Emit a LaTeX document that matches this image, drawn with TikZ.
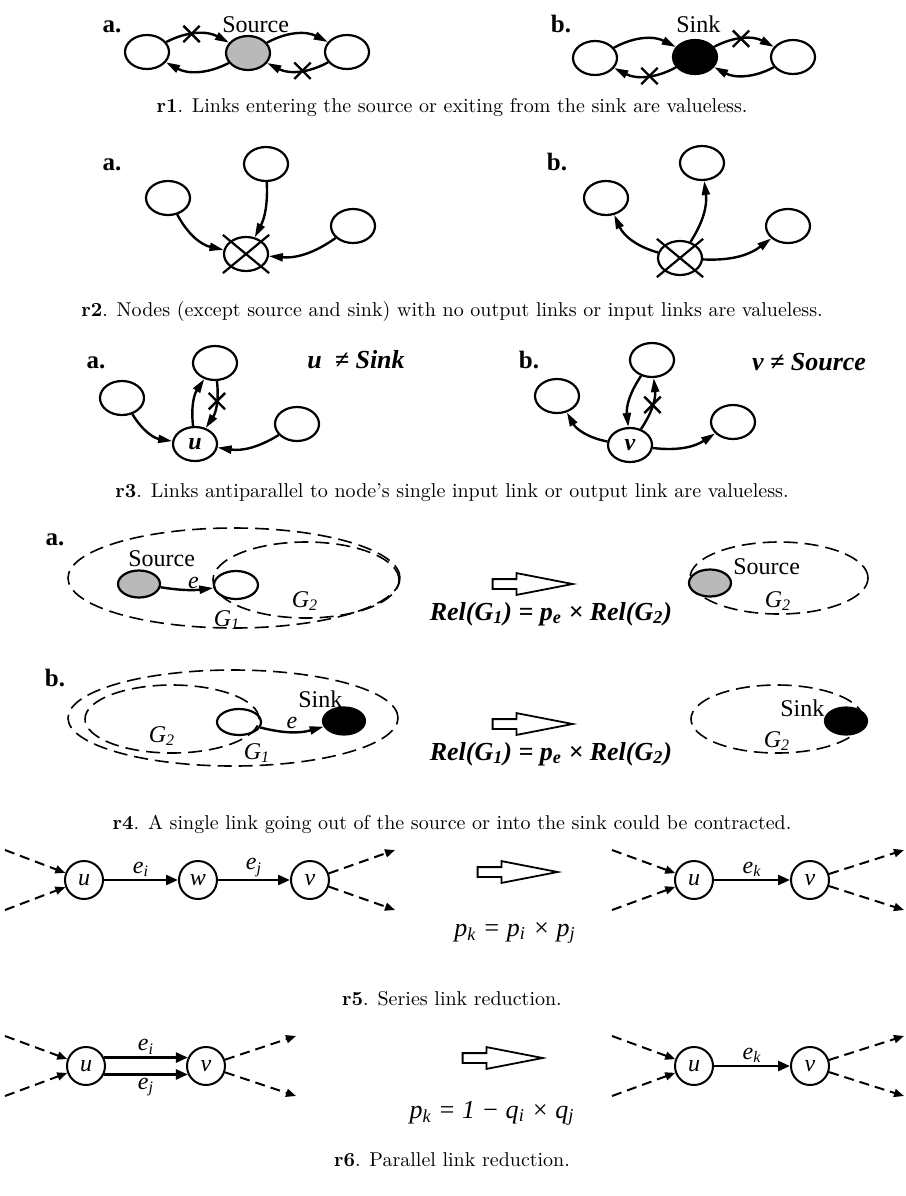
\documentclass[tikz,border=0pt]{standalone}
\usepackage{fontspec}
\usetikzlibrary{arrows.meta,shapes.geometric,shapes.misc,shapes.arrows}
\newfontfamily\tms{Liberation Serif}
\tikzset{
  vtx/.style={
    ellipse,
    draw,
    line width=1.1pt,
    minimum width=22pt,
    minimum height=17pt,
    inner sep=0pt,
    font=\tms\bfseries\itshape\fontsize{12}{12}\selectfont
  },
  srcvtx/.style={vtx, fill=gray!55},
  snkvtx/.style={vtx, fill=black},
  deadx/.style={
    cross out,
    draw,
    line width=1.1pt,
    minimum width=22pt,
    minimum height=18pt,
    inner sep=0pt
  },
  link/.style={
    line width=1.2pt,
    -{Triangle[length=7pt,width=4pt]}
  },
  cutmark/.style={
    cross out,
    draw,
    line width=1.2pt,
    minimum size=7pt,
    inner sep=0pt
  },
  grpline/.style={
    ellipse,
    draw,
    dash pattern=on 7pt off 3.5pt,
    line width=0.8pt,
    inner sep=0pt
  },
  fatarrow/.style={
    single arrow,
    draw,
    line width=0.9pt,
    minimum height=40pt,
    inner sep=2pt,
    single arrow head extend=3pt,
    single arrow tip angle=22
  },
  cvtx/.style={
    circle,
    draw,
    line width=1pt,
    minimum size=19pt,
    inner sep=0pt,
    font=\tms\itshape\fontsize{12}{12}\selectfont
  },
  clink/.style={
    line width=1.3pt,
    -{Triangle[length=6pt,width=5pt]}
  },
  stub/.style={
    line width=1pt,
    dash pattern=on 5pt off 3pt,
    -{Triangle[length=5pt,width=4pt]}
  },
  panel/.style={
    font=\tms\bfseries\fontsize{12.5}{13}\selectfont,
    anchor=base,
    inner sep=0pt
  },
  tag/.style={
    font=\tms\fontsize{12}{13}\selectfont,
    anchor=base west,
    inner sep=0pt
  },
  caption/.style={
    font=\fontsize{10}{12}\selectfont,
    anchor=base
  },
  formula/.style={
    font=\tms\bfseries\itshape\fontsize{13}{14}\selectfont,
    anchor=base,
    inner sep=0pt
  },
  plainformula/.style={
    font=\tms\itshape\fontsize{13}{14}\selectfont,
    anchor=base,
    inner sep=0pt
  },
  sublbl/.style={
    font=\tms\itshape\fontsize{12}{12}\selectfont,
    inner sep=1pt
  }
}

\begin{document}
\begin{tikzpicture}[x=0.5pt,y=-0.5pt]

% Background
\fill[white] (0,0) rectangle (906,1196);
\useasboundingbox (0,0) rectangle (906,1196);

% ---------- r1 ----------
\node[panel] (pa1) at (112,32) {a.};
\node[vtx] (l1a) at (147,52) {};
\node[srcvtx] (s1a) at (248,53) {};
\node[vtx] (r1a) at (347,52) {};
\node[tag] (t1a) at (222,32) {Source};
\draw[link] (l1a) to[bend left=28] node[cutmark,pos=0.4] {} (s1a);
\draw[link] (s1a) to[bend left=28] (l1a);
\draw[link] (s1a) to[bend left=28] (r1a);
\draw[link] (r1a) to[bend left=28] node[cutmark,pos=0.42] {} (s1a);

\node[panel] (pb1) at (561,32) {b.};
\node[vtx] (l1b) at (595,58) {};
\node[snkvtx] (k1b) at (695,57) {};
\node[vtx] (r1b) at (793,57) {};
\node[tag] (t1b) at (676,32) {Sink};
\draw[link] (l1b) to[bend left=28] (k1b);
\draw[link] (k1b) to[bend left=28] node[cutmark,pos=0.43] {} (l1b);
\draw[link] (k1b) to[bend left=28] node[cutmark,pos=0.45] {} (r1b);
\draw[link] (r1b) to[bend left=28] (k1b);

\node[caption] (cap1) at (452,112)
  {\textbf{r1}. Links entering the source or exiting from the sink are valueless.};

% ---------- r2 ----------
\node[panel] (pa2) at (112,170) {a.};
\node[vtx] (t2a) at (266,164) {};
\node[vtx] (l2a) at (168,198) {};
\node[vtx] (r2a) at (353,226) {};
\node[vtx] (d2a) at (246,254) {};
\node[deadx] (x2a) at (d2a) {};
\draw[link] (l2a) to[bend right=25] (d2a);
\draw[link] (t2a) to[bend left=15] (d2a);
\draw[link] (r2a) to[bend left=20] (d2a);

\node[panel] (pb2) at (557,170) {b.};
\node[vtx] (l2b) at (606,198) {};
\node[vtx] (t2b) at (702,163) {};
\node[vtx] (r2b) at (788,226) {};
\node[vtx] (d2b) at (680,258) {};
\node[deadx] (x2b) at (d2b) {};
\draw[link] (d2b) to[bend left=25] (l2b);
\draw[link] (d2b) to[bend right=20] (t2b);
\draw[link] (d2b) to[bend right=20] (r2b);

\node[caption] (cap2) at (452,316)
  {\textbf{r2}. Nodes (except source and sink) with no output links or input links are valueless.};

% ---------- r3 ----------
\node[panel] (pa3) at (96,368) {a.};
\node[vtx] (l3a) at (122,398) {};
\node[vtx] (t3a) at (215,363) {};
\node[vtx] (u3a) at (195,444) {u};
\node[vtx] (r3a) at (297,424) {};
\node[formula] (n3a) at (356,368) {u~~≠ Sink};
\draw[link] (l3a) to[bend right=25] (u3a);
\draw[link] (u3a) to[bend left=20] (t3a);
\draw[link] (t3a) to[bend left=20] node[cutmark,pos=0.4] {} (u3a);
\draw[link] (r3a) to[bend left=20] (u3a);

\node[panel] (pb3) at (529,368) {b.};
\node[vtx] (l3b) at (557,396) {};
\node[vtx] (t3b) at (652,360) {};
\node[vtx] (v3b) at (630,445) {v};
\node[vtx] (r3b) at (733,422) {};
\node[formula] (n3b) at (809,370) {v ≠ Source};
\draw[link] (v3b) to[bend left=25] (l3b);
\draw[link] (t3b) to[bend right=20] (v3b);
\draw[link] (v3b) to[bend right=20] node[cutmark,pos=0.5] {} (t3b);
\draw[link] (v3b) to[bend right=20] (r3b);

\node[caption] (cap3) at (452,497)
  {\textbf{r3}. Links antiparallel to node's single input link or output link are valueless.};

% ---------- r4 ----------
\node[panel] (pa4) at (55,545) {a.};
\node[grpline, minimum width=166pt, minimum height=50pt] (g1a) at (234,578) {};
\node[grpline, minimum width=93pt, minimum height=38pt] (g2a) at (306,580) {};
\node[srcvtx, minimum width=21pt, minimum height=13.5pt] (s4a) at (139,584) {};
\node[vtx, minimum height=14pt] (c4a) at (236,585) {};
\node[tag] (t4a) at (128,566) {Source};
\draw[link] (s4a) to[bend right=8] node[sublbl, above right, pos=0.5, inner sep=0pt] {e} (c4a);
\node[sublbl] (lg2a) at (305,601) {G\textsubscript{2}};
\node[sublbl] (lg1a) at (227,620) {G\textsubscript{1}};

\node[fatarrow] (imp4a) at (520,584) {};
\node[formula] (f4a) at (551,620)
  {Rel(G\textsubscript{1}) = p\textsubscript{e} × Rel(G\textsubscript{2})};

\node[grpline, minimum width=89pt, minimum height=36pt] (g2ar) at (779,578) {};
\node[srcvtx, minimum width=21pt, minimum height=13.5pt] (s4ar) at (710,583) {};
\node[tag] (t4ar) at (733,574) {Source};
\node[sublbl] (lg2ar) at (778,601) {G\textsubscript{2}};

\node[panel] (pb4) at (55,686) {b.};
\node[grpline, minimum width=165pt, minimum height=48pt] (g1b) at (233,718) {};
\node[grpline, minimum width=87pt, minimum height=34pt] (g2b) at (172,719) {};
\node[vtx, minimum height=13pt] (c4b) at (239,722) {};
\node[snkvtx, minimum width=21pt, minimum height=13.5pt] (k4b) at (344,721) {};
\node[tag] (t4b) at (298,707) {Sink};
\draw[link] (c4b) to[bend right=15] node[sublbl, above] {e} (k4b);
\node[sublbl] (lg2b) at (162,736) {G\textsubscript{2}};
\node[sublbl] (lg1b) at (257,753) {G\textsubscript{1}};

\node[fatarrow] (imp4b) at (520,724) {};
\node[formula] (f4b) at (551,760)
  {Rel(G\textsubscript{1}) = p\textsubscript{e} × Rel(G\textsubscript{2})};

\node[grpline, minimum width=86pt, minimum height=34pt] (g2br) at (777,719) {};
\node[snkvtx, minimum width=21pt, minimum height=13.5pt] (k4br) at (846,721) {};
\node[tag] (t4br) at (780,716) {Sink};
\node[sublbl] (lg2br) at (777,741) {G\textsubscript{2}};

\node[caption] (cap4) at (452,829)
  {\textbf{r4}. A single link going out of the source or into the sink could be contracted.};

% ---------- r5 ----------
\node[cvtx] (u5) at (84,880) {u};
\node[cvtx] (w5) at (198,880) {w};
\node[cvtx] (v5) at (310,880) {v};
\node[cvtx] (u5r) at (694,880) {u};
\node[cvtx] (v5r) at (810,880) {v};
\foreach \n/\x/\y in {a5/5/850, b5/5/910, c5/395/850, d5/395/910,
                      a5r/612/850, b5r/612/910, c5r/904/850, d5r/904/910}
  \coordinate (\n) at (\x,\y);
\draw[stub] (a5) -- (u5);
\draw[stub] (b5) -- (u5);
\draw[stub] (v5) -- (c5);
\draw[stub] (v5) -- (d5);
\draw[stub] (a5r) -- (u5r);
\draw[stub] (b5r) -- (u5r);
\draw[stub] (v5r) -- (c5r);
\draw[stub] (v5r) -- (d5r);
\draw[clink] (u5) -- node[sublbl, above] {e\textsubscript{i}} (w5);
\draw[clink] (w5) -- node[sublbl, above] {e\textsubscript{j}} (v5);
\draw[clink] (u5r) -- node[sublbl, above] {e\textsubscript{k}} (v5r);

\node[fatarrow] (imp5) at (505,872) {};
\node[plainformula] (f5) at (515,936)
  {p\textsubscript{k} = p\textsubscript{i} × p\textsubscript{j}};

\node[caption] (cap5) at (452,1005) {\textbf{r5}. Series link reduction.};

% ---------- r6 ----------
\node[cvtx] (u6) at (86,1066) {u};
\node[cvtx] (v6) at (206,1066) {v};
\node[cvtx] (u6r) at (694,1066) {u};
\node[cvtx] (v6r) at (810,1066) {v};
\foreach \n/\x/\y in {a6/5/1036, b6/5/1096, c6/296/1036, d6/296/1096,
                      a6r/612/1036, b6r/612/1096, c6r/904/1036, d6r/904/1096}
  \coordinate (\n) at (\x,\y);
\draw[stub] (a6) -- (u6);
\draw[stub] (b6) -- (u6);
\draw[stub] (v6) -- (c6);
\draw[stub] (v6) -- (d6);
\draw[stub] (a6r) -- (u6r);
\draw[stub] (b6r) -- (u6r);
\draw[stub] (v6r) -- (c6r);
\draw[stub] (v6r) -- (d6r);
\draw[clink] (u6.25) -- node[sublbl, above] {e\textsubscript{i}} (v6.155);
\draw[clink] (u6.-25) -- node[sublbl, below] {e\textsubscript{j}} (v6.-155);
\draw[clink] (u6r) -- node[sublbl, above] {e\textsubscript{k}} (v6r);

\node[fatarrow] (imp6) at (490,1058) {};
\node[plainformula] (f6) at (492,1118)
  {p\textsubscript{k} = 1 − q\textsubscript{i} × q\textsubscript{j}};

\node[caption] (cap6) at (452,1166) {\textbf{r6}. Parallel link reduction.};

\end{tikzpicture}
\end{document}
